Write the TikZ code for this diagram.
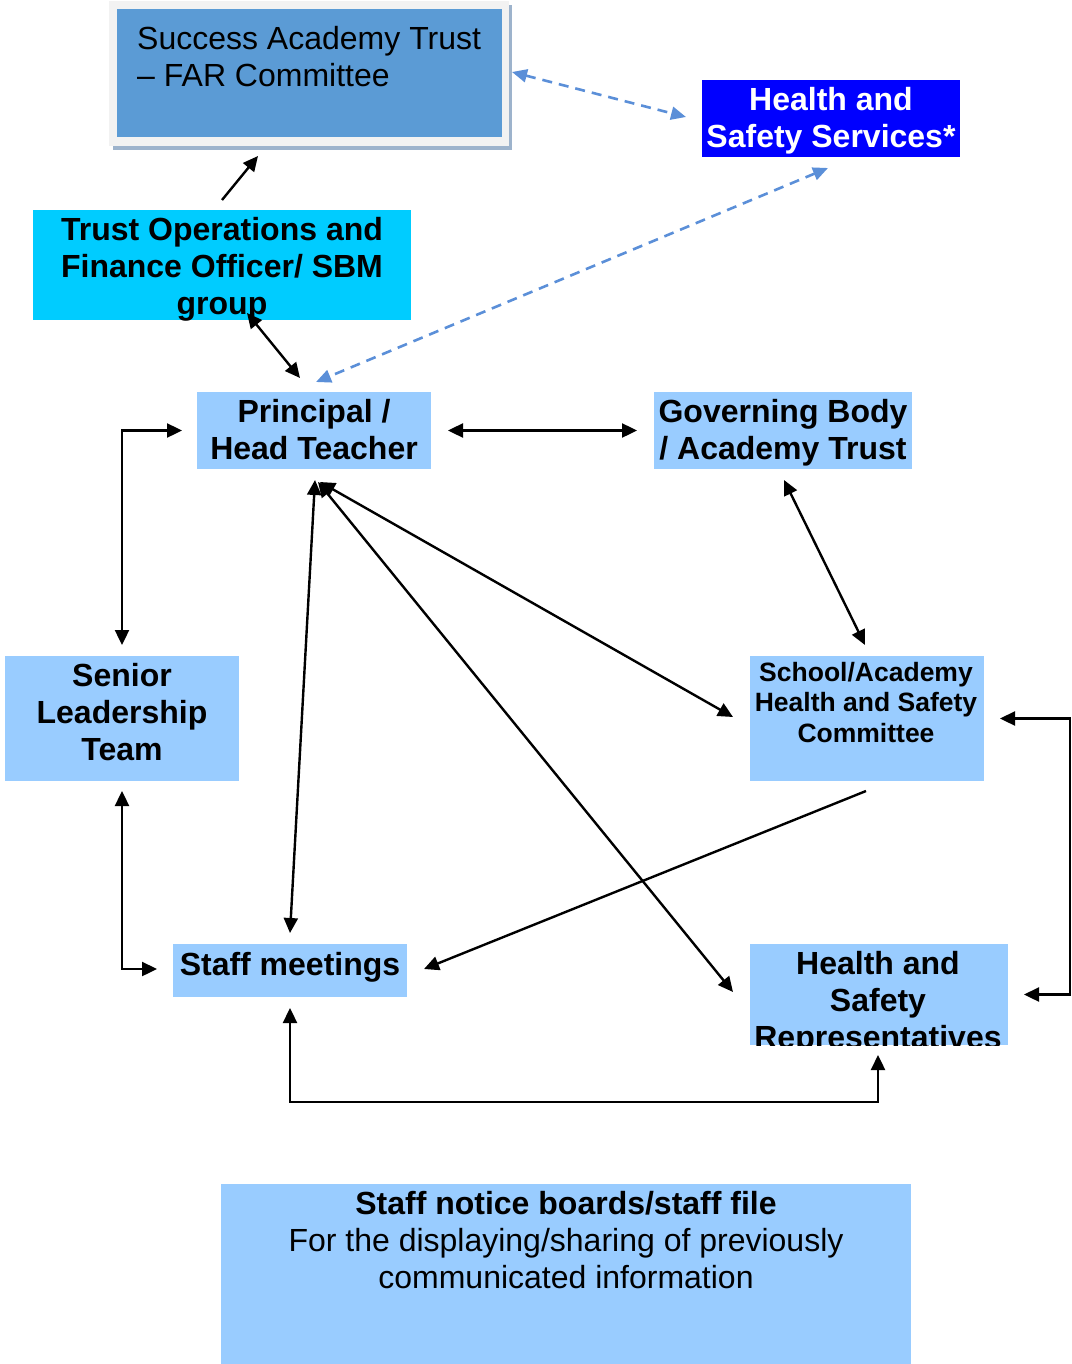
\documentclass[tikz,border=0pt]{standalone}
\usepackage{fontspec}
\setmainfont{Liberation Sans}
\usetikzlibrary{arrows.meta,calc}
\definecolor{farblue}{HTML}{5B9BD5}
\definecolor{lblue}{HTML}{99CCFF}
\definecolor{cyanbox}{HTML}{00CCFF}
\definecolor{hssblue}{HTML}{0000FF}
\definecolor{dashblue}{HTML}{5B8FD8}
\definecolor{framegray}{HTML}{F2F2F2}
\definecolor{shadowgray}{HTML}{9DB3CC}
\tikzset{
  x=1pt, y=-1pt,
  box/.style={draw=none, inner sep=0pt, outer sep=0pt},
  txt/.style={inner sep=0pt, outer sep=0pt, align=center, font=\fontsize{32}{37}\selectfont\bfseries},
  link/.style={line width=2.4pt, {Triangle[length=15pt,width=14pt]}-{Triangle[length=15pt,width=14pt]}},
  onelink/.style={line width=2.4pt, -{Triangle[length=15pt,width=14pt]}},
  dlink/.style={line width=2.6pt, dashblue, dash pattern=on 10pt off 7pt,
    {Triangle[length=15pt,width=13pt]}-{Triangle[length=15pt,width=13pt]}}
}
\begin{document}
\begin{tikzpicture}
\useasboundingbox (0,0) rectangle (1071,1364);
% FAR committee frame
\fill[shadowgray] (113,5) rectangle (512,150);
\fill[framegray] (109,1) rectangle (509,146);
\node[box, fill=farblue, minimum width=385pt, minimum height=128pt] (far) at (309.5,73) {};
\node[inner sep=0pt, anchor=west, align=left, font=\fontsize{32}{37}\selectfont] (fart) at (137,56.5) {Success Academy Trust\\– FAR Committee};
% Health and Safety Services
\node[box, fill=hssblue, minimum width=258pt, minimum height=77pt] (hss) at (831,118.5) {};
\node[txt, text=white] (hsst) at (831,120.5) {Health and\\Safety Services*};
% Trust operations
\node[box, fill=cyanbox, minimum width=378pt, minimum height=110pt] (tof) at (222,265) {};
\node[txt] (toft) at (222,269) {Trust Operations and\\Finance Officer/ SBM\\group};
% Principal
\node[box, fill=lblue, minimum width=234pt, minimum height=77pt] (pr) at (314,430.5) {};
\node[txt] (prt) at (314,429.5) {Principal /\\Head Teacher};
% Governing body
\node[box, fill=lblue, minimum width=258pt, minimum height=77pt] (gb) at (783,430.5) {};
\node[txt] (gbt) at (783,432.5) {Governing Body\\/ Academy Trust};
% Senior leadership
\node[box, fill=lblue, minimum width=234pt, minimum height=125pt] (slt) at (122,718.5) {};
\node[txt] (sltt) at (122,712) {Senior\\Leadership\\Team};
% Committee
\node[box, fill=lblue, minimum width=234pt, minimum height=125pt] (com) at (867,718.5) {};
\node[txt, font=\fontsize{26.5}{30.5}\selectfont\bfseries] (comt) at (866,702.5) {School/Academy\\Health and Safety\\Committee};
% Staff meetings
\node[box, fill=lblue, minimum width=234pt, minimum height=53pt] (sm) at (290,970.5) {};
\node[txt] (smt) at (290,967) {Staff meetings};
% Representatives
\node[box, fill=lblue, minimum width=258pt, minimum height=101pt] (rep) at (879,994.5) {};
\begin{scope}
  \clip (750,944) rectangle (1008,1045);
  \node[txt] (rept) at (878,1003) {Health and\\Safety\\Representatives};
\end{scope}
% Notice boards
\node[box, fill=lblue, minimum width=690pt, minimum height=180pt] (nb) at (566,1274) {};
\node[txt, font=\fontsize{32}{37}\selectfont] (nbt) at (566,1240.5) {{\bfseries Staff notice boards/staff file}\\For the displaying/sharing of previously\\communicated information};
% connectors
\draw[dlink] ($(far.east)+(10,-1)$) -- ($(hss.west)+(-16,-1.5)$);
\draw[dlink] ($(hss.south)+(-3,11)$) -- ($(pr.north)+(2,-10)$);
\draw[onelink] ($(tof.north)+(0,-10)$) -- ($(far.south)+(-51.5,19)$);
\draw[link] ($(tof.south)+(25,-7)$) -- ($(pr.north)+(-14,-14)$);
\draw[link] ($(pr.east)+(17,0)$) -- ($(gb.west)+(-17,0)$);
\draw[link] ($(pr.west)+(-15,0)$) -| ($(slt.north)+(0,-11)$);
\draw[link] ($(pr.south)+(1,11)$) -- ($(sm.north)+(0,-11)$);
\draw[link] ($(pr.south)+(6,13)$) -- ($(com.west)+(-17,-1.5)$);
\draw[link] ($(pr.south)+(4,13)$) -- ($(rep.west)+(-17,-2.5)$);
\draw[link] ($(gb.south)+(1,11)$) -- ($(com.north)+(-2,-11)$);
\draw[onelink] ($(com.south)+(-1,10)$) -- ($(sm.east)+(17,-1.5)$);
\draw[link] ($(com.east)+(16,0)$) -- ++(70,0) |- ($(rep.east)+(16,0)$);
\draw[link] ($(slt.south)+(0,10)$) |- ($(sm.west)+(-16,-1.5)$);
\draw[link] ($(sm.south)+(0,11)$) -- ++(0,94) -| ($(rep.south)+(-1,10)$);
\end{tikzpicture}
\end{document}
